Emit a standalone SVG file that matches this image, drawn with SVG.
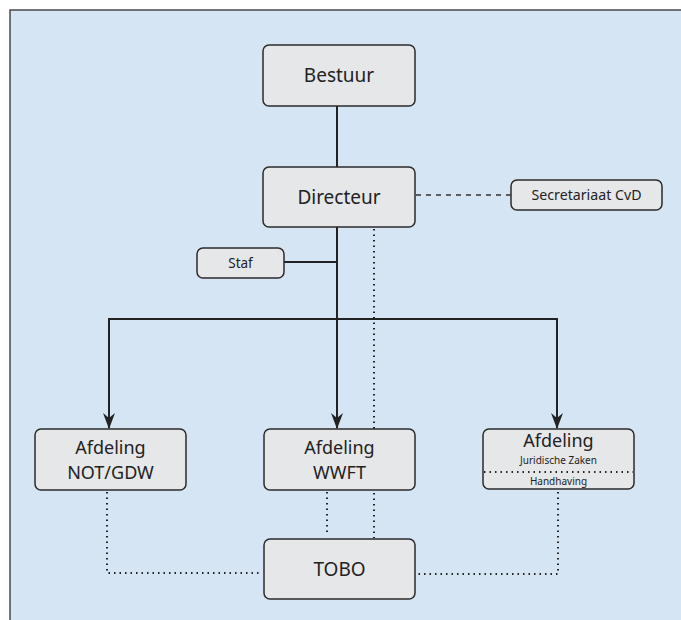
<svg xmlns="http://www.w3.org/2000/svg" width="681" height="620" viewBox="0 0 681 620">
<style>
.box{fill:#e6e7e9;stroke:#2b2b2b;stroke-width:1.5}
.t{font-family:"Noto Sans","Open Sans",sans-serif;fill:#222;text-anchor:middle}
.big{font-size:19px}
.afd{font-size:18px}
.mid{font-size:13.5px}
.sm{font-size:10px}
.solid{stroke:#222;stroke-width:2;fill:none}
.dash{stroke:#333;stroke-width:1.5;fill:none;stroke-dasharray:5,5}
.dot{stroke:#222;stroke-width:2;fill:none;stroke-dasharray:1.5,4}
</style>
<defs>
<marker id="arr" viewBox="0 0 16 12" refX="15" refY="6" markerWidth="16" markerHeight="12" markerUnits="userSpaceOnUse" orient="auto-start-reverse">
<path d="M0,0 L16,6 L0,12 L5,6 Z" fill="#222"/>
</marker>
</defs>
<rect x="0" y="0" width="681" height="620" fill="#ffffff"/>
<rect x="10" y="10" width="675" height="615" fill="#d5e5f4" stroke="#4a4a4a" stroke-width="1.5"/>
<g id="connectors">
<line class="solid" x1="337" y1="106" x2="337" y2="167"/>
<line class="dash" x1="416" y1="195" x2="511" y2="195"/>
<line class="solid" x1="284" y1="262" x2="337" y2="262"/>
<line class="solid" x1="337" y1="227" x2="337" y2="428" marker-end="url(#arr)"/>
<polyline class="solid" points="109,428 109,319 557,319 557,428" marker-start="url(#arr)" marker-end="url(#arr)"/>
<line class="dot" x1="374" y1="229" x2="374" y2="538"/>
<polyline class="dot" points="107,492 107,573 262,573"/>
<line class="dot" x1="327" y1="492" x2="327" y2="536"/>
<polyline class="dot" points="558,492 558,574 418,574"/>
</g>
<g id="bestuur">
<rect class="box" x="263" y="45" width="152" height="61" rx="6"/>
<text class="t big" x="339" y="82">Bestuur</text>
</g>
<g id="directeur">
<rect class="box" x="263" y="167" width="152" height="60" rx="6"/>
<text class="t big" x="339" y="204">Directeur</text>
</g>
<g id="secretariaat">
<rect class="box" x="511" y="180" width="151" height="30" rx="6"/>
<text class="t mid" x="586.5" y="200" textLength="110" lengthAdjust="spacingAndGlyphs">Secretariaat CvD</text>
</g>
<g id="staf">
<rect class="box" x="197" y="248" width="87" height="30" rx="6"/>
<text class="t mid" x="240.5" y="268">Staf</text>
</g>
<g id="notgdw">
<rect class="box" x="35" y="429" width="151" height="61" rx="6"/>
<text class="t afd" x="110.5" y="454">Afdeling</text>
<text class="t afd" x="110.5" y="479">NOT/GDW</text>
</g>
<g id="wwft">
<rect class="box" x="264" y="429" width="151" height="61" rx="6"/>
<text class="t afd" x="339.5" y="454">Afdeling</text>
<text class="t afd" x="339.5" y="479">WWFT</text>
</g>
<g id="juridisch">
<rect class="box" x="483" y="429" width="151" height="60" rx="6"/>
<text class="t afd" x="558.5" y="447">Afdeling</text>
<text class="t sm" x="558.5" y="464">Juridische Zaken</text>
<line class="dot" x1="484" y1="472" x2="633" y2="472"/>
<text class="t sm" x="558.5" y="485">Handhaving</text>
</g>
<g id="tobo">
<rect class="box" x="264" y="539" width="151" height="60" rx="6"/>
<text class="t big" x="339.5" y="576">TOBO</text>
</g>
</svg>
